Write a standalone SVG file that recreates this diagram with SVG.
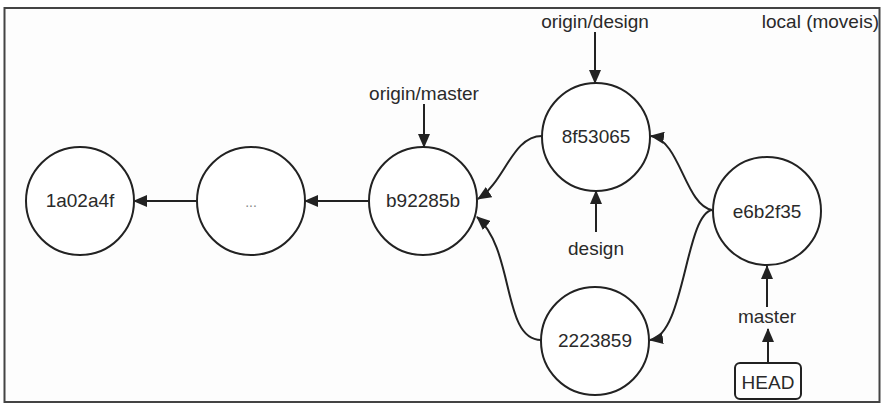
<svg xmlns="http://www.w3.org/2000/svg" width="883" height="411" viewBox="0 0 883 411">
<style>
  .node circle { fill: #ffffff; stroke: #222; stroke-width: 2; }
  .node rect { fill: #ffffff; stroke: #222; stroke-width: 2; }
  text { font-family: "Liberation Sans", Arial, sans-serif; font-size: 19px; fill: #2a2a2a; text-anchor: middle; }
  .conn path, .conn line { fill: none; stroke: #222; stroke-width: 2; }
</style>
<defs>
  <marker id="arr" markerUnits="userSpaceOnUse" markerWidth="14" markerHeight="12" viewBox="0 0 14 12" refX="13" refY="6" orient="auto">
    <path d="M0,0 L14,6 L0,12 Z" fill="#222"/>
  </marker>
</defs>
<rect x="0" y="0" width="883" height="411" fill="#ffffff"/>
<rect x="4.5" y="8" width="875" height="394" fill="#fdfdfd" stroke="#444" stroke-width="2"/>

<g id="label-local"><text x="879" y="28" style="text-anchor:end">local (moveis)</text></g>

<g id="n-1a02a4f" class="node"><circle cx="80" cy="201" r="54"/><text x="80" y="207">1a02a4f</text></g>
<g id="n-dots" class="node"><circle cx="251" cy="201" r="54"/><text x="251" y="207" style="fill:#888;font-size:14px">...</text></g>
<g id="n-b92285b" class="node"><circle cx="423" cy="201" r="54"/><text x="423" y="207">b92285b</text></g>
<g id="n-8f53065" class="node"><circle cx="596" cy="137" r="54"/><text x="596" y="143">8f53065</text></g>
<g id="n-2223859" class="node"><circle cx="595" cy="341" r="54"/><text x="595" y="347">2223859</text></g>
<g id="n-e6b2f35" class="node"><circle cx="767" cy="211" r="54"/><text x="767" y="218">e6b2f35</text></g>

<g id="label-origin-master"><text x="424" y="100">origin/master</text></g>
<g id="label-origin-design"><text x="595" y="28">origin/design</text></g>
<g id="label-design"><text x="596" y="255">design</text></g>
<g id="label-master"><text x="767" y="323">master</text></g>
<g id="n-HEAD" class="node"><rect x="735" y="363" width="66" height="36" rx="5"/><text x="768" y="389">HEAD</text></g>

<g id="connectors" class="conn">
  <line x1="197" y1="201" x2="134" y2="201" marker-end="url(#arr)"/>
  <line x1="369" y1="201" x2="305" y2="201" marker-end="url(#arr)"/>
  <line x1="424" y1="104" x2="424" y2="147" marker-end="url(#arr)"/>
  <line x1="595" y1="32" x2="595" y2="83" marker-end="url(#arr)"/>
  <line x1="596" y1="232" x2="596" y2="191" marker-end="url(#arr)"/>
  <path d="M542,136 C512,136 505,182 478,199" marker-end="url(#arr)"/>
  <path d="M541,340 C502,340 515,250 477,217" marker-end="url(#arr)"/>
  <path d="M712,210 C685,205 680,140 651,136" marker-end="url(#arr)"/>
  <path d="M712,210 C685,215 685,335 650,340" marker-end="url(#arr)"/>
  <line x1="767" y1="307" x2="767" y2="266" marker-end="url(#arr)"/>
  <line x1="768" y1="363" x2="768" y2="329" marker-end="url(#arr)"/>
</g>
</svg>
